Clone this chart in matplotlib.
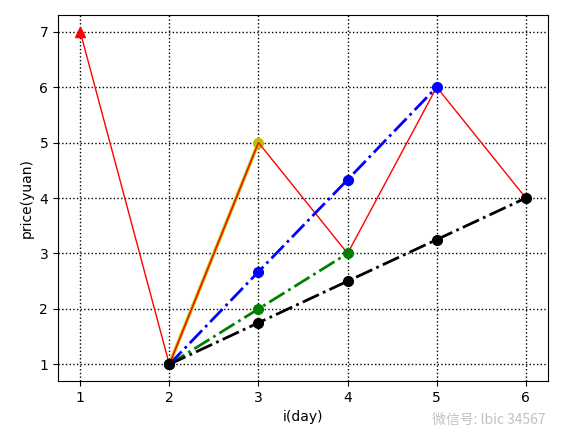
import matplotlib
matplotlib.use("Agg")
import matplotlib.pyplot as plt

plt.rcParams['font.family'] = ['DejaVu Sans', 'Noto Sans CJK SC']

days = [1, 2, 3, 4, 5, 6]
prices = [7, 1, 5, 3, 6, 4]

yellow_x = [2, 3]
yellow_y = [1, 5]
green_x = [2, 3, 4]
green_y = [1, 2, 3]
blue_x = [2, 3, 4, 5]
blue_y = [1, 2.67, 4.33, 6]
black_x = [2, 3, 4, 5, 6]
black_y = [1, 1.75, 2.5, 3.25, 4]

fig = plt.figure(figsize=(5.68, 4.30), dpi=100)
ax = fig.add_axes([0.102, 0.114, 0.863, 0.851])

ax.plot(yellow_x, yellow_y, 'y-o', linewidth=2.5, markersize=7)
ax.plot(days, prices, 'r-', linewidth=1)
ax.plot(days[0], prices[0], 'r^', markersize=7)
ax.plot(green_x, green_y, 'g-.o', linewidth=2, markersize=7)
ax.plot(blue_x, blue_y, 'b-.o', linewidth=2, markersize=7)
ax.plot(black_x, black_y, 'k-.o', linewidth=2, markersize=7)

ax.grid(True, linestyle=':', color='black', linewidth=1)
ax.set_xlabel('i(day)')
ax.set_ylabel('price(yuan)')

fig.text(0.76, 0.015, '微信号: lbic 34567', color='#999999', alpha=0.6, fontsize=10,
         family=['Noto Sans CJK SC', 'DejaVu Sans'])

fig.savefig('out.png', dpi=100)
